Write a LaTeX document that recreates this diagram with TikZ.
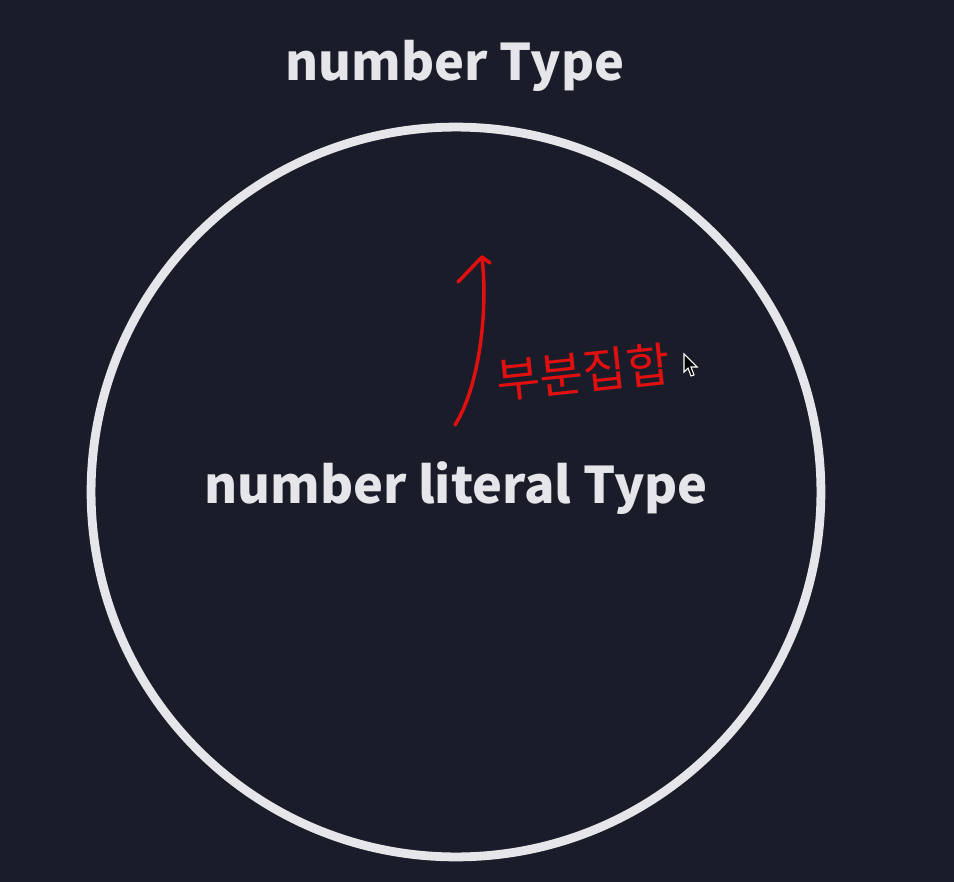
\documentclass[tikz,border=0pt]{standalone}
\usepackage{fontspec}
\setmainfont{Noto Sans CJK KR}
\newfontfamily\krfont{Noto Sans CJK KR}
\usetikzlibrary{arrows,positioning}
\definecolor{bgnavy}{HTML}{1B1C29}
\definecolor{ringgray}{HTML}{E6E6EA}
\definecolor{penred}{HTML}{E01010}
\begin{document}
\begin{tikzpicture}[x=0.02cm,y=-0.02cm]
 \tikzset{title node/.style={text=ringgray, font=\fontsize{28.7}{34}\selectfont\bfseries}, }
 \tikzset{set node/.style={circle, draw=ringgray, line width=5pt,
 		minimum size=14.6cm, inner sep=0pt}, }
 \tikzset{pen node/.style={text=penred, font=\krfont\fontsize{27}{32}\selectfont, rotate=6}, }
 \tikzset{linea/.style={draw=penred, line width=2pt, line cap=round, line join=round},}
 \fill[bgnavy] (0,0) rectangle (954,882);
 \useasboundingbox (0,0) rectangle (954,882);
 \node[title node] (outer) at (455,66) {number Type};
 \node[set node] (set) at (456,492) {};
 \node[title node] (inner) at (456,488) {number literal Type};
 \coordinate (tail) at (455,425);
 \coordinate (tip) at (482,257);
 \path[linea] (tail) .. controls (480,385) and (488,310) .. (tip);
 \path[linea] (458,282) -- (tip) -- (490,263);
 \node[pen node] (label) at (583,372) {부분집합};
 % cursor
 \draw[white, fill=black, line width=0.6pt] (684,354) -- (684,372) -- (688,368) -- (691,376) -- (694,375) -- (691,367) -- (697,367) -- cycle;
\end{tikzpicture}
\end{document}
